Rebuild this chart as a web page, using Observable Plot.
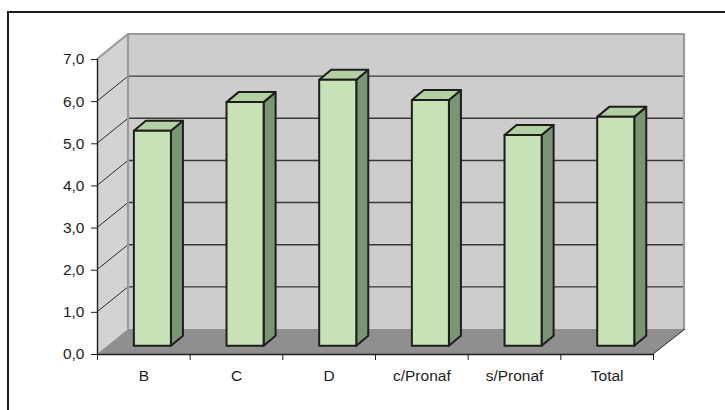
<!DOCTYPE html>
<html><head><meta charset="utf-8">
<script src="https://cdn.jsdelivr.net/npm/d3@7"></script>
<script src="https://cdn.jsdelivr.net/npm/@observablehq/plot@0.6"></script>
<style>
body{margin:0;background:#fff;}
#wrap{position:relative;width:725px;height:410px;overflow:hidden;}
#wrap svg{position:absolute;left:0;top:0;}
#frame{position:absolute;left:7px;top:11px;width:760px;height:440px;border:2px solid #1c1c1c;pointer-events:none;}
</style></head><body><div id="wrap"><div id="frame"></div></div>
<script>
const categories = ["B", "C", "D", "c/Pronaf", "s/Pronaf", "Total"];
const values = [5.10, 5.78, 6.31, 5.83, 5.00, 5.43];
const yTicks = [0, 1, 2, 3, 4, 5, 6, 7];
const xBounds = [0, 1, 2, 3, 4, 5, 6];

const DEPTH = {dx: 31, dy: -25};
const BAR = {off: 0.29, width: 0.4, dx: 10, dy: -8.3, ddx: 12, ddy: -10};
const FONT = "'Liberation Sans', Arial, sans-serif";

const data = categories.map((c, i) => ({c, i, v: values[i]}));
const nCat = categories.length;
const yMax = yTicks[yTicks.length - 1];

function walls(index, {x, y}) {
  const x0 = x(0), x1 = x(nCat), y0 = y(0), yT = y(yMax);
  const {dx, dy} = DEPTH;
  const g = d3.create("svg:g");
  g.append("rect").attr("x", x0 + dx).attr("y", yT + dy).attr("width", x1 - x0).attr("height", y0 - yT).attr("fill", "#cdcdcd");
  g.append("path").attr("d", `M${x0},${y0}L${x0},${yT}L${x0 + dx},${yT + dy}L${x0 + dx},${y0 + dy}Z`).attr("fill", "#d3d3d3");
  for (const t of yTicks.slice(1, -1)) {
    g.append("line").attr("x1", x0 + dx).attr("x2", x1 + dx).attr("y1", y(t) + dy).attr("y2", y(t) + dy)
      .attr("stroke", "#3a3a3a").attr("stroke-width", 1.4);
    g.append("line").attr("x1", x0).attr("x2", x0 + dx).attr("y1", y(t)).attr("y2", y(t) + dy)
      .attr("stroke", "#2a2a2a").attr("stroke-width", 1);
  }
  // floor
  g.append("path").attr("d", `M${x0},${y0}L${x0 + dx},${y0 + dy}L${x1 + dx + 1},${y0 + dy}L${x1},${y0}Z`).attr("fill", "#8f8f8f");
  // gray outer edges
  g.append("path").attr("d", `M${x0},${yT}L${x0 + dx},${yT + dy}L${x1 + dx},${yT + dy}L${x1 + dx},${y0 + dy}M${x0 + dx},${yT + dy}L${x0 + dx},${y0 + dy}`)
    .attr("fill", "none").attr("stroke", "#9a9a9a").attr("stroke-width", 2.2);
  // right floor edge
  g.append("line").attr("x1", x1).attr("y1", y0).attr("x2", x1 + dx + 1).attr("y2", y0 + dy).attr("stroke", "#2a2a2a").attr("stroke-width", 1);
  return g.node();
}

function barSides(index, {x, y}) {
  const g = d3.create("svg:g");
  for (const d of data) {
    const xl = x(d.i + BAR.off) + BAR.dx, xr = x(d.i + BAR.off + BAR.width) + BAR.dx;
    const yt = y(d.v) + BAR.dy, yb = y(0) + BAR.dy;
    g.append("path").attr("d", `M${xr},${yb}L${xr},${yt}L${xr + BAR.ddx},${yt + BAR.ddy}L${xr + BAR.ddx},${yb + BAR.ddy}Z`)
      .attr("fill", "#7b9473").attr("stroke", "#1e1e1e").attr("stroke-width", 2).attr("stroke-linejoin", "round");
    g.append("path").attr("d", `M${xl},${yt}L${xl + BAR.ddx},${yt + BAR.ddy}L${xr + BAR.ddx},${yt + BAR.ddy}L${xr},${yt}Z`)
      .attr("fill", "#b2d0a2").attr("stroke", "#1e1e1e").attr("stroke-width", 2).attr("stroke-linejoin", "round");
  }
  return g.node();
}

const chart = Plot.plot({
  width: 725,
  height: 410,
  marginLeft: 97,
  marginRight: 72,
  marginTop: 59,
  marginBottom: 56,
  style: {fontFamily: FONT, fontSize: "15.5px", color: "#1e1e1e", background: "transparent"},
  x: {domain: [0, nCat], ticks: xBounds, tickFormat: () => "", tickSize: 6, label: null},
  y: {domain: [0, yMax], ticks: yTicks, tickFormat: d => d.toFixed(1).replace(".", ","), tickSize: 6, tickPadding: 7, label: null},
  marks: [
    walls,
    Plot.ruleX([0], {y1: 0, y2: yMax, stroke: "#1e1e1e", strokeWidth: 1.4}),
    Plot.ruleY([0], {x1: 0, x2: nCat, stroke: "#1e1e1e", strokeWidth: 1.4}),
    barSides,
    Plot.rect(data, {x1: d => d.i + BAR.off, x2: d => d.i + BAR.off + BAR.width, y1: 0, y2: "v",
      dx: BAR.dx, dy: BAR.dy, fill: "#c8e2b8", stroke: "#1e1e1e", strokeWidth: 2, strokeLinejoin: "round"}),
    Plot.text(data, {x: d => d.i + 0.5, y: 0, text: "c", dy: 22, fontSize: 15.5, fill: "#1e1e1e"})
  ]
});
document.getElementById("wrap").insertBefore(chart, document.getElementById("frame"));
</script></body></html>
